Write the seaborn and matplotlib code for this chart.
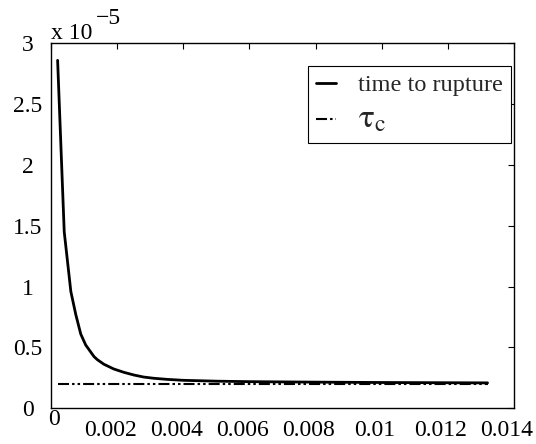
import matplotlib
matplotlib.use("Agg")
import matplotlib.pyplot as plt
import matplotlib.transforms as mtransforms
import seaborn as sns
import pandas as pd
from matplotlib.ticker import FuncFormatter, FixedLocator

# ---- data (y in units of 1e-5) ----
x_curve = [0.0002, 0.0004, 0.0006, 0.00075, 0.0009, 0.00105, 0.0012, 0.0013,
           0.0014, 0.0016, 0.0019, 0.0022, 0.0025, 0.0028, 0.0031, 0.0035,
           0.004, 0.005, 0.006, 0.008, 0.010, 0.0132]
y_curve_e5 = [2.86, 1.45, 0.96, 0.77, 0.61, 0.52, 0.463, 0.425,
              0.40, 0.362, 0.323, 0.296, 0.274, 0.257, 0.247, 0.238,
              0.230, 0.223, 0.219, 0.215, 0.212, 0.209]
x_tau = [0.0002, 0.0132]
y_tau_e5 = [0.20, 0.20]
x_ticks = [0, 0.002, 0.004, 0.006, 0.008, 0.010, 0.012, 0.014]
x_tick_labels = ["", "0.002", "0.004", "0.006", "0.008", "0.01", "0.012", "0.014"]
y_ticks_e5 = [0, 0.5, 1, 1.5, 2, 2.5, 3]
scale = 1e-5
label_curve = "time to rupture"
label_tau = r"$\mathrm{\tau_c}$"

sns.set_theme(style="white")
plt.rcParams["font.family"] = ["Liberation Serif", "DejaVu Serif"]
plt.rcParams["mathtext.fontset"] = "stix"

df_curve = pd.DataFrame({"x": x_curve, "y": [v * scale for v in y_curve_e5]})
df_tau = pd.DataFrame({"x": x_tau, "y": [v * scale for v in y_tau_e5]})

fig = plt.figure(figsize=(5.36, 4.44), dpi=100)
ax = fig.add_axes([51 / 536, 1 - 408.3 / 444, 463 / 536, 365 / 444])

sns.lineplot(data=df_curve, x="x", y="y", ax=ax, color="black", lw=2.0,
             label=label_curve, sort=False)
sns.lineplot(data=df_tau, x="x", y="y", ax=ax, color="black", lw=1.5,
             label=label_tau, sort=False,
             linestyle=(0, (5.3, 1.45, 1.2, 1.45, 1.2, 1.45)))

FS = 17
ax.set_xlim(0, 0.014)
ax.set_ylim(0, 3 * scale)
ax.xaxis.set_major_locator(FixedLocator(x_ticks))
ax.set_xticklabels(x_tick_labels)
ax.yaxis.set_major_locator(FixedLocator([v * scale for v in y_ticks_e5]))
ax.yaxis.set_major_formatter(FuncFormatter(lambda v, p: f"{v / scale:g}"))
ax.set_xlabel("")
ax.set_ylabel("")

for s in ax.spines.values():
    s.set_color("black")
    s.set_linewidth(1.0)
    s.set_visible(True)

ax.tick_params(axis="both", which="major", direction="in", length=4,
               width=0.8, color="black", top=True, right=True,
               labelsize=FS, labelcolor="black")
ax.tick_params(axis="x", pad=8.5)
ax.tick_params(axis="y", pad=16.5)
for lab in ax.get_yticklabels():
    lab.set_horizontalalignment("center")
shift = mtransforms.ScaledTranslation(-7 / 100, 0, fig.dpi_scale_trans)
for lab in ax.get_xticklabels():
    lab.set_transform(lab.get_transform() + shift)

# x = 0 label, drawn slightly higher (as in the reference)
ax.annotate("0", xy=(0, 0), xycoords="data", xytext=(2.5, -0.5),
            textcoords="offset points", ha="center", va="top",
            fontsize=FS, color="black")

# exponent label
ax.text(0.0, 1.012, "x 10", transform=ax.transAxes, ha="left", va="baseline",
        fontsize=FS, color="black")
ax.text(45 / 463, 1.052, "\u22125", transform=ax.transAxes, ha="left",
        va="baseline", fontsize=FS, color="black")

leg = ax.legend(loc="upper right", bbox_to_anchor=(0.9935, 0.938),
                borderaxespad=0, frameon=True, fancybox=False, shadow=False,
                framealpha=1, edgecolor="black", fontsize=17.5,
                handlelength=0.8, handletextpad=0.9, borderpad=0.35,
                labelspacing=0.3)
leg.get_frame().set_linewidth(0.8)
for t in leg.get_texts():
    if "tau" in t.get_text():
        t.set_fontsize(24)

fig.savefig("out.png", dpi=100, facecolor="white")
